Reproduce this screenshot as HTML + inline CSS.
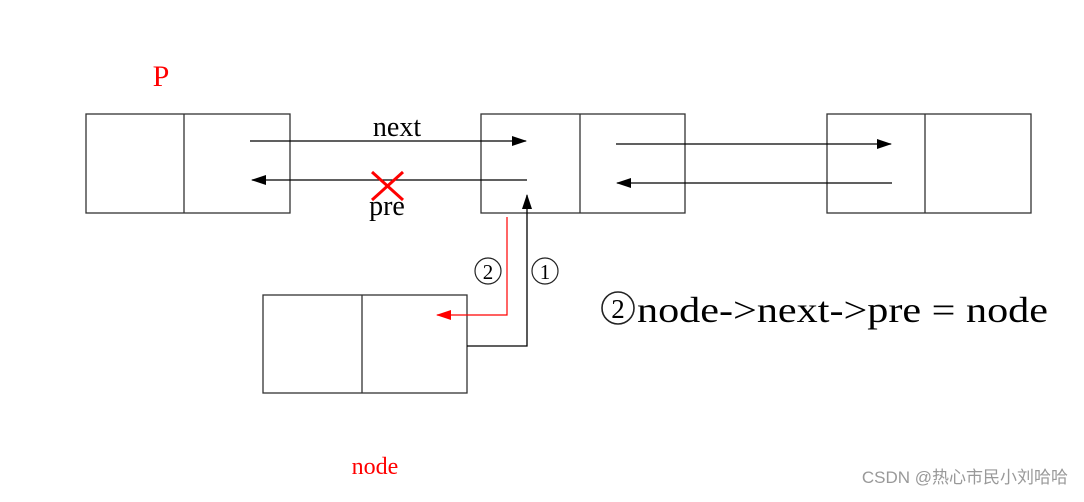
<!DOCTYPE html>
<html><head><meta charset="utf-8"><style>
body{margin:0;background:#fff;width:1084px;height:497px;overflow:hidden}
</style></head><body>
<svg width="1084" height="497" xmlns="http://www.w3.org/2000/svg" font-family="Liberation Serif, serif">
<defs>
<marker id="ab" markerWidth="16" markerHeight="12" refX="14" refY="6" orient="auto" markerUnits="userSpaceOnUse"><path d="M0,1L15,6L0,11z" fill="#000"/></marker>
<marker id="ar" markerWidth="16" markerHeight="12" refX="14" refY="6" orient="auto" markerUnits="userSpaceOnUse"><path d="M0,1L15,6L0,11z" fill="red"/></marker>
</defs>
<g fill="none" stroke="#333" stroke-width="1.3">
<rect x="86" y="114" width="204" height="99"/><line x1="184" y1="114" x2="184" y2="213"/>
<rect x="481" y="114" width="204" height="99"/><line x1="580" y1="114" x2="580" y2="213"/>
<rect x="827" y="114" width="204" height="99"/><line x1="925" y1="114" x2="925" y2="213"/>
<rect x="263" y="295" width="204" height="98"/><line x1="362" y1="295" x2="362" y2="393"/>
</g>
<g stroke="#000" stroke-width="1.3" fill="none">
<line x1="250" y1="141" x2="526" y2="141" marker-end="url(#ab)"/>
<line x1="527" y1="180" x2="252" y2="180" marker-end="url(#ab)"/>
<line x1="616" y1="144" x2="891" y2="144" marker-end="url(#ab)"/>
<line x1="892" y1="183" x2="617" y2="183" marker-end="url(#ab)"/>
<polyline points="467,346 527,346 527,195" marker-end="url(#ab)"/>
</g>
<polyline points="507,217 507,315 437,315" fill="none" stroke="red" stroke-width="1.2" marker-end="url(#ar)"/>
<line x1="372" y1="172" x2="403" y2="200" stroke="red" stroke-width="3"/>
<line x1="403" y1="172" x2="372" y2="200" stroke="red" stroke-width="3"/>
<text x="161" y="86" fill="red" font-size="30" text-anchor="middle">P</text>
<text x="397" y="136" font-size="28" text-anchor="middle">next</text>
<text x="387" y="215" font-size="28" text-anchor="middle">pre</text>
<g fill="none" stroke="#222" stroke-width="1.2">
<circle cx="488" cy="271" r="13"/><circle cx="545" cy="271" r="13"/>
<circle cx="618" cy="308" r="16" stroke-width="1.6"/>
</g>
<text x="488" y="279" font-size="21" text-anchor="middle">2</text>
<text x="545" y="279" font-size="21" text-anchor="middle">1</text>
<text x="618" y="318" font-size="27" text-anchor="middle">2</text>
<text x="637" y="322" font-size="36" textLength="411" lengthAdjust="spacingAndGlyphs">node-&gt;next-&gt;pre = node</text>
<text x="375" y="474" fill="red" font-size="24" text-anchor="middle">node</text>
<text x="1068" y="483" fill="#999" font-size="17" text-anchor="end" font-family="Liberation Sans, Noto Sans CJK SC, sans-serif">CSDN @热心市民小刘哈哈</text>
</svg>
</body></html>
